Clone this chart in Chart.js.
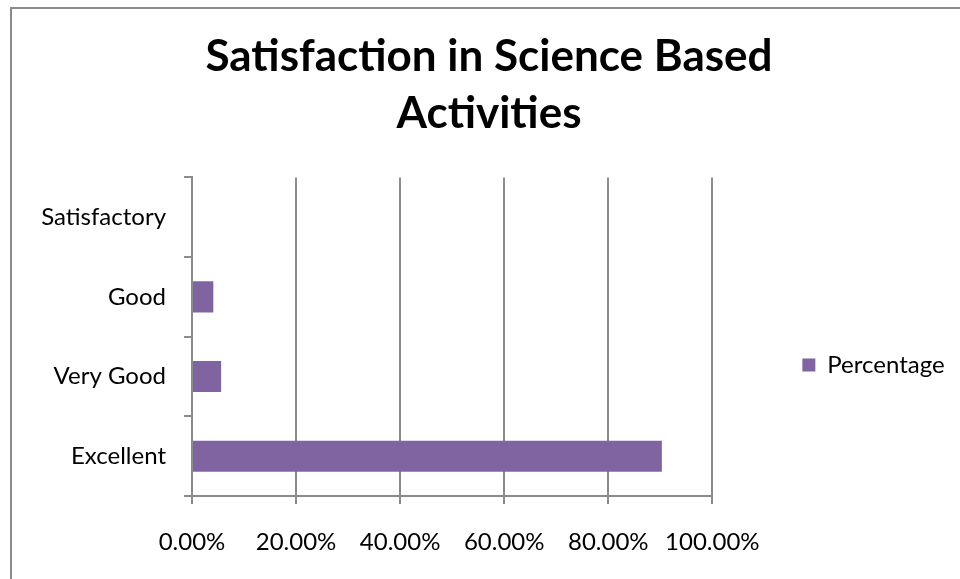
<!DOCTYPE html>
<html>
<head>
<meta charset="utf-8">
<script src="https://cdn.jsdelivr.net/npm/chart.js@4.4.1/dist/chart.umd.min.js"></script>
<style>
html,body{margin:0;padding:0;background:#fff;}
#wrap{position:absolute;left:0;top:0;width:960px;height:579px;}
</style>
</head>
<body>
<div id="wrap"><canvas id="c" width="960" height="579"></canvas></div>
<script>
const titleLines = ['Satisfaction in Science Based', 'Activities'];
const categories = ['Satisfactory', 'Good', 'Very Good', 'Excellent'];
const seriesName = 'Percentage';
const percentages = [0, 4.1, 5.6, 90.3];
const xTicks = [0, 20, 40, 60, 80, 100];

const FONT = 'Lato, "Liberation Sans", sans-serif';
const AXIS = '#8c8c8c';

const framePlugin = {
  id: 'frame',
  beforeDraw(chart) {
    const ctx = chart.ctx;
    ctx.save();
    ctx.fillStyle = '#fff';
    ctx.fillRect(0, 0, chart.width, chart.height);
    ctx.strokeStyle = '#8a8a8a';
    ctx.lineWidth = 2;
    ctx.beginPath();
    ctx.moveTo(11, chart.height);
    ctx.lineTo(11, 8);
    ctx.lineTo(chart.width, 8);
    ctx.stroke();
    ctx.restore();
  }
};

new Chart(document.getElementById('c'), {
  type: 'bar',
  data: {
    labels: categories,
    datasets: [{
      label: seriesName,
      data: percentages,
      backgroundColor: '#8064A2',
      borderWidth: 0,
      categoryPercentage: 0.39,
      barPercentage: 1.0
    }]
  },
  options: {
    indexAxis: 'y',
    responsive: false,
    animation: false,
    devicePixelRatio: 1,
    layout: { padding: { left: 34, top: 9, right: 16, bottom: 26 } },
    plugins: {
      title: {
        display: true,
        text: titleLines,
        color: '#000',
        font: { family: FONT, size: 44, weight: 'bold', lineHeight: 1.3 },
        padding: { top: 19, bottom: 35 }
      },
      legend: {
        display: true,
        position: 'right',
        title: {
          display: true,
          text: '',
          font: { family: FONT, size: 12, lineHeight: 1 },
          padding: { top: 156, bottom: 0 }
        },
        labels: {
          color: '#000',
          font: { family: FONT, size: 24 },
          boxWidth: 13,
          boxHeight: 13,
          padding: 10
        }
      },
      tooltip: { enabled: false }
    },
    scales: {
      x: {
        min: 0,
        max: 100,
        afterBuildTicks(s) { s.ticks = xTicks.map(v => ({ value: v })); },
        afterFit(s) { s.height = 57; },
        grid: { color: AXIS, lineWidth: 2, tickLength: 8, drawOnChartArea: true },
        border: { color: AXIS, width: 2 },
        ticks: {
          color: '#000',
          font: { family: FONT, size: 24 },
          padding: 24,
          maxRotation: 0,
          callback: v => v.toFixed(2) + '%'
        }
      },
      y: {
        afterFit(s) { s.width = 158; },
        grid: { color: AXIS, lineWidth: 2, tickLength: 8, drawOnChartArea: false, offset: true },
        border: { color: AXIS, width: 2 },
        ticks: { color: '#000', font: { family: FONT, size: 24 }, padding: 18 }
      },
      pad: {
        type: 'linear',
        axis: 'y',
        position: 'right',
        display: true,
        afterFit(s) { s.width = 80; },
        grid: { display: false },
        border: { display: false },
        ticks: { display: false }
      }
    }
  },
  plugins: [framePlugin]
});
</script>
</body>
</html>
